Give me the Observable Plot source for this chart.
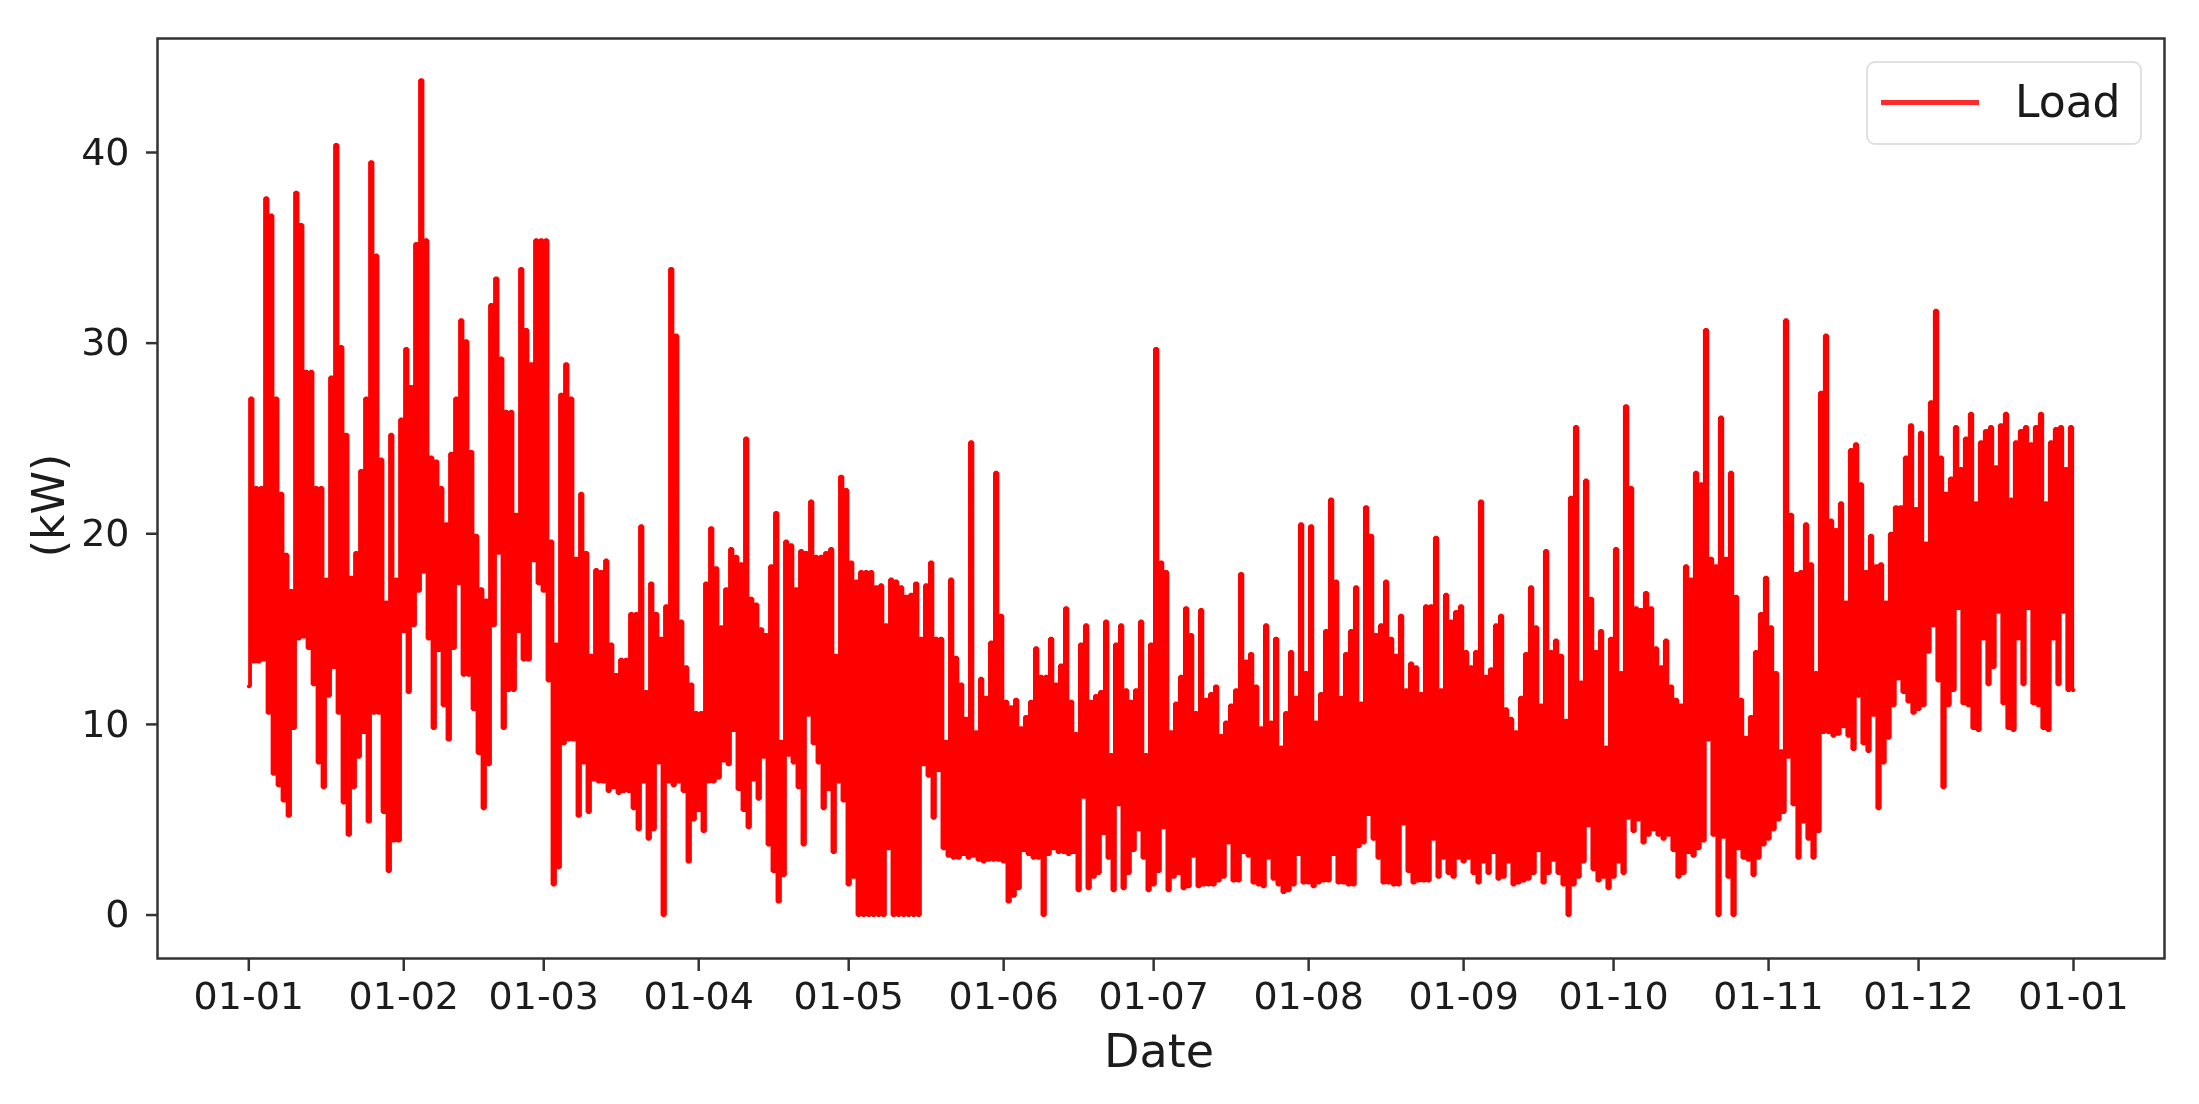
<!DOCTYPE html>
<html>
<head>
<meta charset="utf-8">
<script src="https://cdn.jsdelivr.net/npm/d3@7"></script>
<script src="https://cdn.jsdelivr.net/npm/@observablehq/plot@0.6"></script>
<style>
  html, body { margin: 0; padding: 0; background: #fff; }
  #chart { position: relative; width: 2199px; height: 1104px; overflow: hidden; font-family: "DejaVu Sans", sans-serif; }
  #chart svg { display: block; filter: blur(0.7px); }
  #legend { position: absolute; left: 1866px; top: 61px; width: 276px; height: 84px; box-sizing: border-box;
    border: 2.5px solid #e0e0e0; border-radius: 9px; background: #fff; filter: blur(0.5px); }
  #legend i { position: absolute; left: 13px; top: 37px; width: 98px; height: 5px; background: #ff2a2a; }
  #legend span { position: absolute; left: 147px; top: 12px; font-size: 44px; line-height: 54px; color: #1a1a1a; }
</style>
</head>
<body>
<div id="chart"></div>
<script>
const startDate = "2019-01-01";
const monthTicks = ["2019-01-01","2019-02-01","2019-03-01","2019-04-01","2019-05-01","2019-06-01","2019-07-01","2019-08-01","2019-09-01","2019-10-01","2019-11-01","2019-12-01","2020-01-01"];
const yTicks = [0, 10, 20, 30, 40];
const seriesName = "Load";

// Upper reading per day of the year (kW)
const highs000 = [
27.1,22.4,22.4,37.6,36.7,27.1,22.1,18.9,17,37.9,
36.2,28.5,28.5,22.4,22.4,17.6,28.2,40.4,29.8,25.2,
17.7,19,23.3,27.1,39.5,34.6,23.9,16.4,25.2,17.6,
26,29.7,27.7,35.2,43.8,35.4,24,23.8,22.4,20.5,
24.2,27.1,31.2,30.1,24.3,19.9,17.1,16.5,32,33.4,
29.2,26.4,26.4,21,33.9,30.7,28.9,35.4,35.4,35.4,
19.6,14.2,27.3,28.9,27.1,18.7,22.1,19,13.6,18.1,
18,18.6,14.2,12.6,13.4,13.4,15.8,15.8,20.4,11.7,
17.4,15.8,14.5,16.2,33.9,30.4,15.4,13,12.1,10.6,
10.6,17.4,20.3,18.2,15.1,17.1,19.2,18.8,18.4,25];
const highs100 = [
16.6,16.3,15,14.7,18.3,21.1,9.1,19.6,19.4,17.1,
19.1,19,21.7,18.8,18.8,19,19.2,13.6,23,22.3,
18.5,17.5,18,18,18,17.2,17.3,15.2,17.6,17.5,
17.2,16.7,16.8,17.4,14.5,17.3,18.5,14.5,14.5,9.1,
17.6,13.5,12.1,10.3,24.8,9.6,12.4,11.4,14.3,23.2,
15.7,11.2,10.9,11.3,9.8,10.4,11.2,14,12.5,12.5,
14.5,12.1,13.1,16.1,11.2,9.5,14.2,15.2,11.2,11.5,
11.7,15.4,8.4,14.2,15.2,11.8,11.2,11.8,15.4,8.4,
14.2,29.7,18.5,18,9.6,11.1,12.5,16.1,14.7,10.6,
16,11.3,11.6,12,9.4,10.1,11,11.8,17.9,13.3];
const highs200 = [
13.7,12,9.8,15.2,10.1,14.5,8.8,10.6,13.8,11.4,
20.5,12.7,20.4,10.1,11.6,14.9,21.8,17.5,11.4,13.7,
14.9,17.2,11.1,21.4,19.9,14.7,15.2,17.5,14.5,13.6,
15.7,11.8,13.2,13,11.6,16.2,16.2,19.8,11.8,16.8,
15.4,15.9,16.2,13.8,13,13.8,21.7,12.5,12.9,15.2,
15.7,10.8,10.3,9.6,11.4,13.7,17.2,15.1,11,19.1,
13.8,14.4,13.6,10.2,21.9,25.6,12.2,22.8,16.6,13.8,
14.9,8.8,14.5,19.2,12.7,26.7,22.4,16.1,16,16.9,
16.1,14,13,14.4,12,11.3,11,18.3,17.6,23.2,
22.6,30.7,18.7,18.3,26.1,18.7,23.2,16.7,11.3,9.3];
const highs300 = [
10.4,13.8,15.8,17.7,15.1,12.7,8.6,31.2,21,17.9,
18,20.5,18.4,12.7,27.4,30.4,20.7,20.2,21.6,16.4,
24.4,24.7,22.6,18,19.9,18.3,18.4,16.4,20,21.4,
21.4,24,25.7,21.3,25.3,19.5,26.9,31.7,24,22.1,
22.9,25.6,23.4,25,26.3,21.6,24.8,25.4,25.6,23.5,
25.7,26.3,21.8,24.8,25.4,25.6,24.7,25.6,26.3,21.6,
24.8,25.5,25.6,23.4,25.6];

// Lower reading per day of the year (kW)
const lows000 = [
12,13.3,13.3,13.4,10.6,7.4,6.8,6,5.2,9.8,
14.5,14.6,14,12.1,8,6.7,11.5,13,10.6,5.9,
4.2,6.7,8.3,9.6,4.9,10.6,10.6,5.4,2.3,3.9,
3.9,14.9,11.7,15.2,17,18,14.5,9.8,13.9,11,
9.2,14,17.4,12.6,12.6,10.8,8.5,5.6,7.9,15.2,
19,9.8,11.8,11.8,14.9,13.4,13.4,18.6,17.4,17,
12.3,1.6,2.5,9,9.2,9.2,5.2,8,5.4,7.1,
7,7,6.5,6.7,6.4,6.5,6.5,5.6,4.5,7,
4,4.5,8,0,7,6.8,7,6.5,2.8,5,
5.5,4.4,7,7,7.2,8.1,7.9,9.7,6.6,5.5];
const lows100 = [
4.6,7.1,6.1,8.3,3.7,2.3,0.7,2.1,8.4,8,
6.7,3.7,10.5,9,8,5.6,6.6,3.3,7,6,
1.6,2,0,0,0,0,0,0,3.5,0,
0,0,0,0,0,7.9,7.3,5.1,7.6,3.5,
3.1,3,3,3.2,3,3.1,2.9,2.8,2.9,2.9,
2.9,2.8,0.7,1,1.4,3.4,3.2,3,3,0,
3.2,3.5,3.3,3.3,3.2,3.3,1.3,6.2,1.4,2,
2.2,4.3,3,1.3,5.8,1.4,2.2,3.4,4.5,3,
1.3,1.6,2.3,4.6,1.3,2,2.2,1.4,1.5,3.1,
1.5,1.6,1.6,1.6,1.8,2,3.8,1.8,1.8,3.3];
const lows200 = [
3.1,1.7,1.6,1.5,3,1.9,1.6,1.2,1.3,1.6,
3.2,1.7,1.7,1.5,1.7,1.8,1.8,3.2,1.7,1.7,
1.6,1.6,3.6,3.8,5.3,4,3,1.7,1.7,1.6,
1.6,4.8,2.3,1.7,1.8,1.8,1.8,4,2,3,
2.2,2,3,2.8,3,2.2,1.7,2.8,2.2,3.3,
1.9,2,2.8,1.6,1.7,1.8,1.9,2.2,3.4,1.7,
2.2,2.9,2.2,1.6,0,1.6,2,2.8,4.7,2.4,
1.8,2,1.4,2,2.8,2.2,5.1,4.4,5,3.8,
4.2,4.5,4.2,4,4.2,3.4,2,2.2,3.3,3.1,
3.5,3.9,9.2,4.2,0,4.1,2,0,3.5,3];
const lows300 = [
2.9,2.1,3,3.7,4,4.5,5,5.4,8.3,5.8,
3,4.9,4,3,4.4,9.6,9.6,9.4,9.5,9.9,
9.4,8.7,11.5,9,8.6,10.5,5.6,8,9.3,11,
12.4,11.7,11.2,10.6,10.8,11,13.8,15.2,12.3,6.7,
11,11.8,16.1,11.1,11,9.8,9.7,14.5,12.1,13,
15.9,11.1,9.8,9.7,14.5,12.1,16.1,11.1,11,9.8,
9.7,14.5,12.1,15.9,11.8,11.8];

const highs = [...highs000, ...highs100, ...highs200, ...highs300];
const lows = [...lows000, ...lows100, ...lows200, ...lows300];

const base = new Date(startDate + "T00:00:00Z");
const at = (d) => new Date(+base + d * 864e5);
const load = [];
lows.forEach((v, d) => {
  load.push({ date: at(d), kW: v });
  if (d < highs.length) load.push({ date: at(d + 0.5), kW: highs[d] });
});

const ink = "#1c1c1c";
const chart = Plot.plot({
  width: 2199,
  height: 1104,
  marginLeft: 157,
  marginRight: 35,
  marginTop: 38,
  marginBottom: 146,
  style: { fontFamily: "'DejaVu Sans', sans-serif", background: "#fff", color: ink },
  x: { type: "utc", domain: [at(-18.26), at(383.2)] },
  y: { domain: [-2.28, 45.98] },
  marks: [
    Plot.line(load, { x: "date", y: "kW", stroke: "#ff0000", strokeWidth: 3.8, curve: "step", strokeLinejoin: "miter" }),
    Plot.frame({ stroke: "#333", strokeWidth: 2.5 }),
    Plot.axisX({
      ticks: monthTicks.map((s) => new Date(s + "T00:00:00Z")),
      tickFormat: d3.utcFormat("%d-%m"),
      tickSize: 13, tickPadding: 11, fontSize: 38,
      stroke: "#333", strokeWidth: 2.5, label: null
    }),
    Plot.axisY({
      ticks: yTicks, tickSize: 11, tickPadding: 17, fontSize: 38,
      stroke: "#333", strokeWidth: 2.5, label: null
    }),
    Plot.text(["Date"], { frameAnchor: "bottom", lineAnchor: "middle", dy: 94, dx: -2, fontSize: 46, fill: ink }),
    Plot.text(["(kW)"], { frameAnchor: "left", textAnchor: "middle", lineAnchor: "middle", dx: -108, dy: 7, rotate: -90, fontSize: 44, fill: ink })
  ]
});

const host = document.getElementById("chart");
host.appendChild(chart);
const legend = document.createElement("div");
legend.id = "legend";
const swatch = document.createElement("i");
const label = document.createElement("span");
label.textContent = seriesName;
legend.append(swatch, label);
host.appendChild(legend);
</script>
</body>
</html>
